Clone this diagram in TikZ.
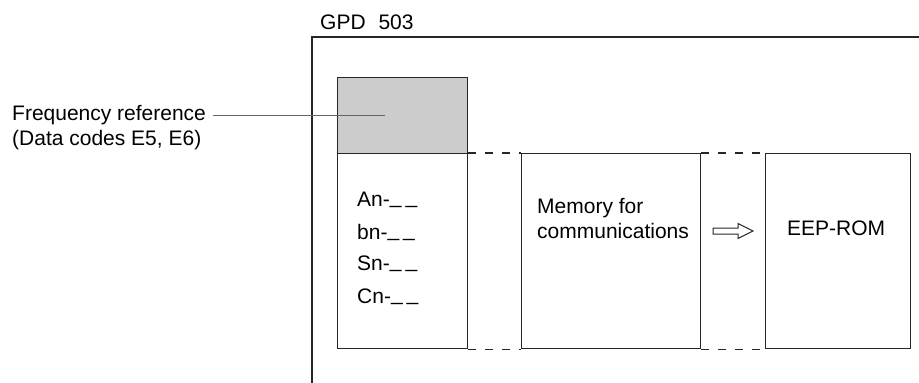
\documentclass[tikz,border=0pt]{standalone}
\usepackage{fontspec}
\setmainfont{Liberation Sans}
\begin{document}
\begin{tikzpicture}[x=1pt,y=-1pt,
  lbl/.style={anchor=west,inner sep=0pt,font=\fontsize{21}{25}\selectfont},
  boxline/.style={line width=1.1pt,black!85},
  dashlink/.style={line width=1.1pt,black!85,dash pattern=on 8pt off 9pt},
  lead/.style={line width=1pt,black!60}]
\useasboundingbox (0,0) rectangle (919,383);
% outer frame (open at right and bottom)
\coordinate (fbl) at (312,383);
\coordinate (ftl) at (312,37);
\coordinate (ftr) at (919,37);
\draw[boxline] (fbl) -- (ftl) -- (ftr);
\node[lbl] (gpd) at (320,22) {GPD\kern7pt{} 503};
% shaded frequency reference box
\node[draw,boxline,fill=gray!40,minimum width=130pt,minimum height=76pt,inner sep=0pt,anchor=north west] (freq) at (337,77) {};
% data box
\node[draw,boxline,minimum width=130pt,minimum height=195pt,inner sep=0pt,anchor=north west] (data) at (337,153) {};
% memory box
\node[draw,boxline,minimum width=179pt,minimum height=195pt,inner sep=0pt,anchor=north west] (mem) at (521,153) {};
% EEP-ROM box
\node[draw,boxline,minimum width=145pt,minimum height=195pt,inner sep=0pt,anchor=north west] (eep) at (765,153) {};
% dashed links
\draw[dashlink] (data.north east) -- (mem.north west);
\draw[dashlink] (data.south east) -- (mem.south west);
\draw[dashlink] (mem.north east) -- (eep.north west);
\draw[dashlink] (mem.south east) -- (eep.south west);
% labels in data box
\newcommand{\blanks}{\raisebox{3pt}{\_\kern4pt\_}}
\node[lbl] (an) at (357,200) {An-\blanks};
\node[lbl] (bn) at (357,232) {bn-\blanks};
\node[lbl] (sn) at (357,264) {Sn-\blanks};
\node[lbl] (cn) at (357,297) {Cn-\blanks};
% memory text
\node[lbl,align=left] (memt) at (537,219) {Memory for\\communications};
% EEP-ROM text
\node[lbl] (eept) at (787,228) {EEP-ROM};
% hollow arrow
\coordinate (arr) at (713,231);
\draw[line width=1pt,black!85,line join=miter] (arr) ++(0,-3) -- ++(25,0) -- ++(0,-4.5) -- ++(15,7.5)
  -- ++(-15,7.5) -- ++(0,-4.5) -- ++(-25,0) -- cycle;
% frequency reference label and leader
\node[lbl] (fr1) at (12,115) {Frequency reference};
\node[lbl] (fr2) at (12,140) {(Data codes E5, E6)};
\coordinate (leadend) at (385,115);
\draw[lead] (fr1.east) ++(7,0) coordinate (leadstart) -- (leadend);
\end{tikzpicture}
\end{document}
